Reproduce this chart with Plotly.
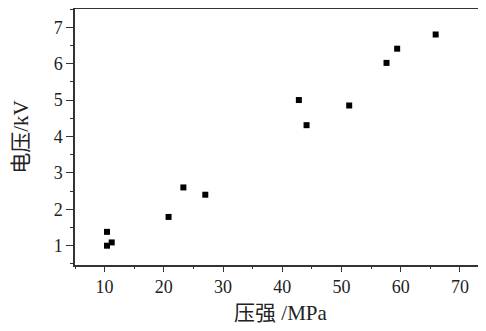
import plotly.graph_objects as go

pressure_mpa = [10.4, 10.4, 11.2, 20.8, 23.3, 27.0, 42.8, 44.1, 51.3, 57.6, 59.4, 65.9]
voltage_kv = [1.38, 1.0, 1.09, 1.79, 2.6, 2.4, 5.0, 4.31, 4.85, 6.02, 6.41, 6.8]

x_ticks = [10, 20, 30, 40, 50, 60, 70]
y_ticks = [1, 2, 3, 4, 5, 6, 7]

FONT = "Liberation Serif, Times New Roman, Noto Sans CJK SC, serif"

fig = go.Figure(
    go.Scatter(
        x=pressure_mpa,
        y=voltage_kv,
        mode="markers",
        marker=dict(symbol="square", size=6, color="black", line=dict(width=0)),
    )
)

axis_common = dict(
    showline=True,
    linecolor="#333333",
    linewidth=1.5,
    showgrid=False,
    zeroline=False,
    automargin=False,
    ticks="outside",
    tickcolor="#333333",
    tickwidth=1.2,
    tickfont=dict(family=FONT, size=18, color="#222222"),
)

fig.update_layout(
    width=478,
    height=323,
    margin=dict(l=67, r=0, t=1, b=66),
    paper_bgcolor="white",
    plot_bgcolor="white",
    showlegend=False,
    xaxis=dict(
        **axis_common,
        range=[5, 74.4],
        tickvals=x_ticks,
        ticklen=5,
        mirror=True,
        minor=dict(dtick=5, tick0=0, ticklen=2, ticks="outside", tickcolor="#333333", tickwidth=1),
        title=dict(text="压强 /MPa", font=dict(family=FONT, size=21, color="#222222"), standoff=9),
    ),
    yaxis=dict(
        **axis_common,
        range=[0.47, 7.5],
        tickvals=y_ticks,
        ticklen=7,
        minor=dict(dtick=0.5, tick0=0, ticklen=3, ticks="outside", tickcolor="#333333", tickwidth=1),
        title=dict(text="电压/kV", font=dict(family=FONT, size=21, color="#222222"), standoff=19),
    ),
)

fig.write_html("out.html")
